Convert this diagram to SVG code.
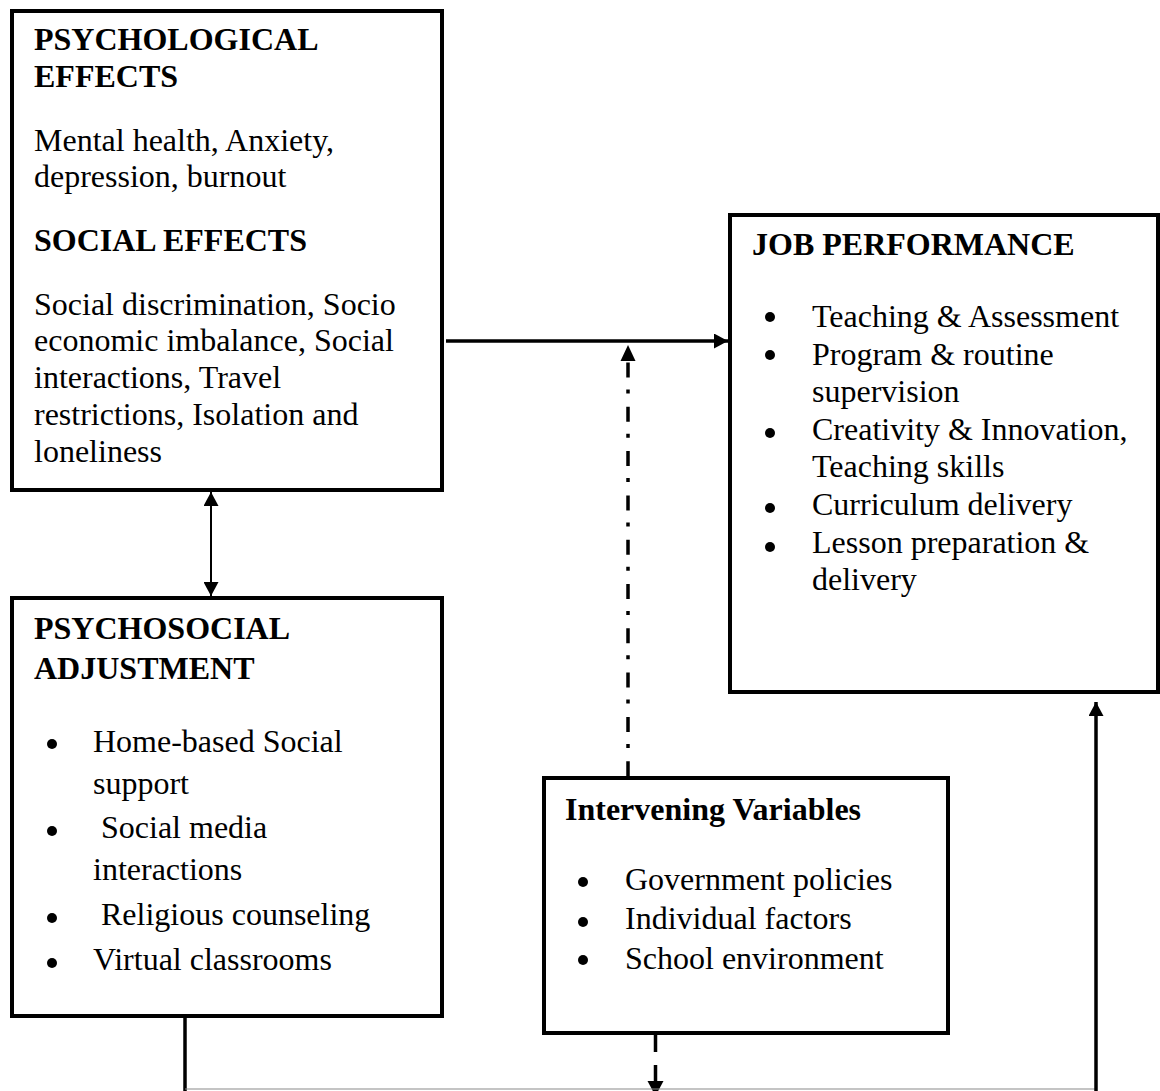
<svg xmlns="http://www.w3.org/2000/svg" width="1160" height="1091" viewBox="0 0 1160 1091">
  <defs>
    <style>
      .box { fill: #ffffff; stroke: #000000; stroke-width: 4; }
      .t { font-family: "Liberation Serif", "Times New Roman", serif; font-size: 32px; fill: #000000; }
      .b { font-weight: bold; }
      .wire { fill: none; stroke: #000000; stroke-width: 3.5; }
      .thin { fill: none; stroke: #000000; stroke-width: 2; }
      .base { fill: none; stroke: #8a8a8a; stroke-width: 1.2; }
      .dashdot { fill: none; stroke: #000000; stroke-width: 3.5; stroke-dasharray: 15 12 4 13.3; }
      .dash { fill: none; stroke: #000000; stroke-width: 3.5; }
      .dot { fill: #000000; }
      .head { fill: #000000; }
    </style>
    <marker id="arrow" markerUnits="userSpaceOnUse" viewBox="0 0 14 15" refX="14" refY="7.5" markerWidth="14" markerHeight="15" orient="auto-start-reverse">
      <path d="M0,0 L14,7.5 L0,15 z" fill="#000000"/>
    </marker>
  </defs>

  <!-- Psychological & social effects -->
  <g id="node-effects">
    <rect class="box" x="12" y="11" width="430" height="479"/>
    <text class="t b" x="34" y="50">PSYCHOLOGICAL</text>
    <text class="t b" x="34" y="87">EFFECTS</text>
    <text class="t" x="34" y="151">Mental health, Anxiety,</text>
    <text class="t" x="34" y="187">depression, burnout</text>
    <text class="t b" x="34" y="251">SOCIAL EFFECTS</text>
    <text class="t" x="34" y="315">Social discrimination, Socio</text>
    <text class="t" x="34" y="351">economic imbalance, Social</text>
    <text class="t" x="34" y="388">interactions, Travel</text>
    <text class="t" x="34" y="425">restrictions, Isolation and</text>
    <text class="t" x="34" y="462">loneliness</text>
  </g>

  <!-- Psychosocial adjustment -->
  <g id="node-adjustment">
    <rect class="box" x="12" y="598" width="430" height="418"/>
    <text class="t b" x="34" y="639">PSYCHOSOCIAL</text>
    <text class="t b" x="34" y="679">ADJUSTMENT</text>
    <circle class="dot" cx="52" cy="744" r="5"/>
    <text class="t" x="93" y="752">Home-based Social</text>
    <text class="t" x="93" y="794">support</text>
    <circle class="dot" cx="52" cy="831" r="5"/>
    <text class="t" x="101" y="838">Social media</text>
    <text class="t" x="93" y="880">interactions</text>
    <circle class="dot" cx="52" cy="918" r="5"/>
    <text class="t" x="101" y="925">Religious counseling</text>
    <circle class="dot" cx="52" cy="963" r="5"/>
    <text class="t" x="93" y="970">Virtual classrooms</text>
  </g>

  <!-- Job performance -->
  <g id="node-performance">
    <rect class="box" x="730" y="215" width="428" height="477"/>
    <text class="t b" x="752" y="255">JOB PERFORMANCE</text>
    <circle class="dot" cx="770" cy="317" r="5"/>
    <text class="t" x="812" y="327">Teaching &amp; Assessment</text>
    <circle class="dot" cx="770" cy="355" r="5"/>
    <text class="t" x="812" y="365">Program &amp; routine</text>
    <text class="t" x="812" y="402">supervision</text>
    <circle class="dot" cx="770" cy="433" r="5"/>
    <text class="t" x="812" y="440">Creativity &amp; Innovation,</text>
    <text class="t" x="812" y="477">Teaching skills</text>
    <circle class="dot" cx="770" cy="508" r="5"/>
    <text class="t" x="812" y="515">Curriculum delivery</text>
    <circle class="dot" cx="770" cy="547" r="5"/>
    <text class="t" x="812" y="553">Lesson preparation &amp;</text>
    <text class="t" x="812" y="590">delivery</text>
  </g>

  <!-- Intervening variables -->
  <g id="node-intervening">
    <rect class="box" x="544" y="778" width="404" height="255"/>
    <text class="t b" x="565" y="820">Intervening Variables</text>
    <circle class="dot" cx="583" cy="882" r="5"/>
    <text class="t" x="625" y="890">Government policies</text>
    <circle class="dot" cx="583" cy="922" r="5"/>
    <text class="t" x="625" y="929">Individual factors</text>
    <circle class="dot" cx="583" cy="960" r="5"/>
    <text class="t" x="625" y="969">School environment</text>
  </g>

  <!-- Connectors -->
  <g id="connectors">
    <!-- effects to job performance -->
    <path class="wire" d="M446,341 H728" marker-end="url(#arrow)"/>
    <!-- effects <-> adjustment -->
    <path class="thin" d="M211,492 V596" marker-start="url(#arrow)" marker-end="url(#arrow)"/>
    <!-- intervening variables acting on the main relation -->
    <path class="dashdot" d="M628,362.5 V776"/>
    <polygon class="head" points="628,345 620.5,361 635.5,361"/>
    <!-- intervening variables down to the base line -->
    <path class="dash" d="M655.5,1035 V1052 M655.5,1065 V1082"/>
    <polygon class="head" points="647.5,1081 663.5,1081 655.5,1096"/>
    <!-- adjustment down, across and up to job performance -->
    <path class="wire" d="M185,1018 V1091"/>
    <path class="base" d="M185,1089 H1096"/>
    <path class="wire" d="M1096,1091 V702" marker-end="url(#arrow)"/>
  </g>
</svg>
